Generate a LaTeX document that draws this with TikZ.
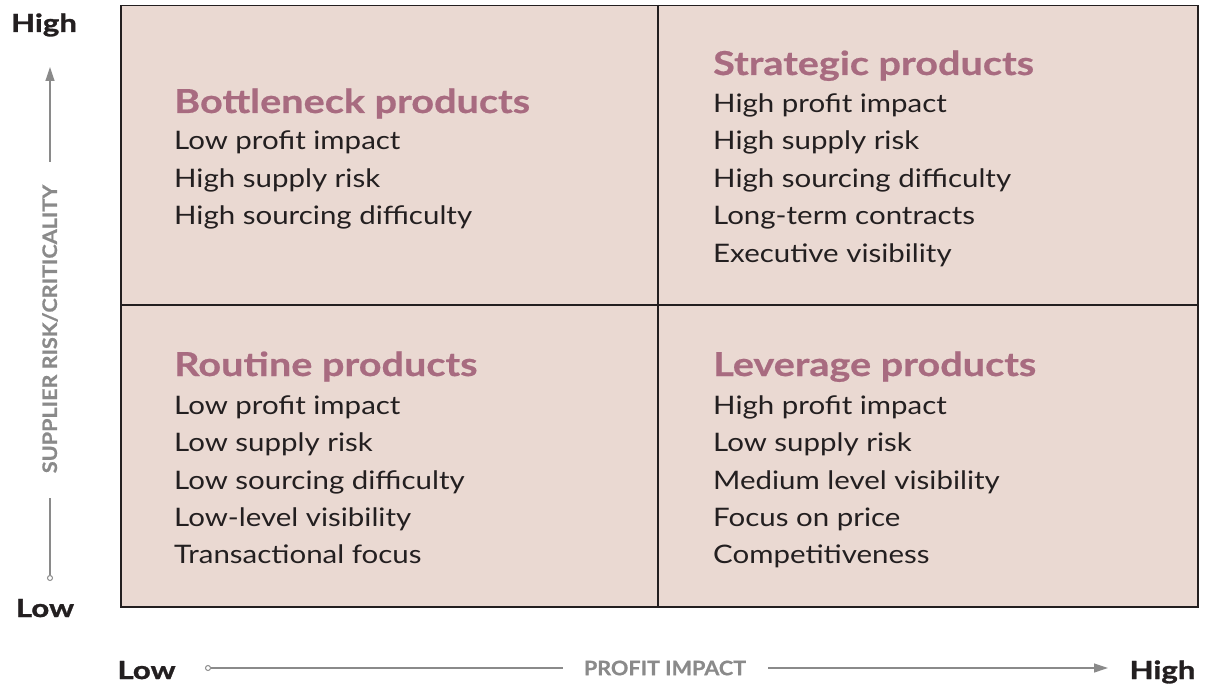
\documentclass[tikz,border=0pt]{standalone}
\usepackage{fontspec}
\setmainfont{Lato}
\newfontfamily\bodyf{Lato}[FakeStretch=1.155]
\newfontfamily\titlef{Lato Bold}[FakeStretch=1.2,FakeBold=0.6]
\newfontfamily\labf{Lato Bold}[FakeStretch=1.25,FakeBold=1.2]
\newfontfamily\namef{Lato Bold}[FakeStretch=1.08,FakeBold=0.8]
\usetikzlibrary{arrows.meta}
\definecolor{quadfill}{HTML}{EAD9D2}
\definecolor{titlec}{HTML}{A86B80}
\definecolor{bodyc}{HTML}{231F20}
\definecolor{axisc}{HTML}{8A8A8A}
\tikzset{
  qtitle/.style={anchor=base west, inner sep=0pt, text=titlec, font=\titlef\fontsize{33}{36}\selectfont},
  qbody/.style={anchor=base west, inner sep=0pt, text=bodyc, font=\bodyf\fontsize{25.5}{37.5}\selectfont, align=left},
  axlab/.style={inner sep=0pt, text=bodyc, font=\labf\fontsize{25}{28}\selectfont},
  axname/.style={inner sep=0pt, text=axisc, font=\namef\fontsize{20}{22}\selectfont},
  axline/.style={draw=axisc, line width=1.2pt},
  grid/.style={draw=bodyc, line width=1.5pt}
}
\begin{document}
\begin{tikzpicture}[x=1pt,y=-1pt]
\useasboundingbox (0,0) rectangle (1208,687);
% quadrant box
\node[grid, fill=quadfill, minimum width=1077pt, minimum height=601pt, anchor=north west, inner sep=0pt] (box) at (120,5) {};
\coordinate (vt) at (658,5);
\coordinate (vb) at (658,606);
\coordinate (hl) at (120,305);
\coordinate (hr) at (1197,305);
\draw[grid] (vt) -- (vb);
\draw[grid] (hl) -- (hr);
% Bottleneck
\node[qtitle] (bt) at (174,113) {Bottleneck products};
\node[qbody] (b1) at (174,150) {Low profit impact};
\node[qbody] (b2) at (174,187.5) {High supply risk};
\node[qbody] (b3) at (174,225) {High sourcing difficulty};
% Strategic
\node[qtitle] (st) at (713,75) {Strategic products};
\node[qbody] (s1) at (713,113) {High profit impact};
\node[qbody] (s2) at (713,150) {High supply risk};
\node[qbody] (s3) at (713,187.5) {High sourcing difficulty};
\node[qbody] (s4) at (713,225) {Long-term contracts};
\node[qbody] (s5) at (713,262) {Executive visibility};
% Routine
\node[qtitle] (rt) at (174,376) {Routine products};
\node[qbody] (r1) at (174,414) {Low profit impact};
\node[qbody] (r2) at (174,451.5) {Low supply risk};
\node[qbody] (r3) at (174,489) {Low sourcing difficulty};
\node[qbody] (r4) at (174,526) {Low-level visibility};
\node[qbody] (r5) at (174,563.5) {Transactional focus};
% Leverage
\node[qtitle] (lt) at (713,376) {Leverage products};
\node[qbody] (l1) at (713,414) {High profit impact};
\node[qbody] (l2) at (713,451.5) {Low supply risk};
\node[qbody] (l3) at (713,489) {Medium level visibility};
\node[qbody] (l4) at (713,526) {Focus on price};
\node[qbody] (l5) at (713,563.5) {Competitiveness};
% vertical axis
\node[axlab, anchor=base] (yhigh) at (44,32) {High};
\node[axlab, anchor=base] (ylow) at (45,617) {Low};
\node[axname, rotate=90] (yname) at (50,329) {SUPPLIER RISK/CRITICALITY};
\coordinate (ytip) at (50,67);
\coordinate (ytop) at (50,162);
\coordinate (ybot) at (50,498);
\node[draw=axisc, circle, line width=1pt, minimum size=5pt, inner sep=0pt] (ycirc) at (50,578) {};
\draw[axline, -{Triangle[width=9pt,length=14pt]}] (ytop) -- (ytip);
\draw[axline] (ycirc) -- (ybot);
% horizontal axis
\node[axlab, anchor=base] (xlow) at (146.5,679) {Low};
\node[axlab, anchor=base] (xhigh) at (1162.5,679) {High};
\node[axname] (xname) at (665,668) {PROFIT IMPACT};
\node[draw=axisc, circle, line width=1pt, minimum size=5pt, inner sep=0pt] (xcirc) at (208,668) {};
\coordinate (xl) at (563,668);
\coordinate (xr) at (768,668);
\coordinate (xtip) at (1108,668);
\draw[axline] (xcirc) -- (xl);
\draw[axline, -{Triangle[width=9pt,length=14pt]}] (xr) -- (xtip);
\end{tikzpicture}
\end{document}
